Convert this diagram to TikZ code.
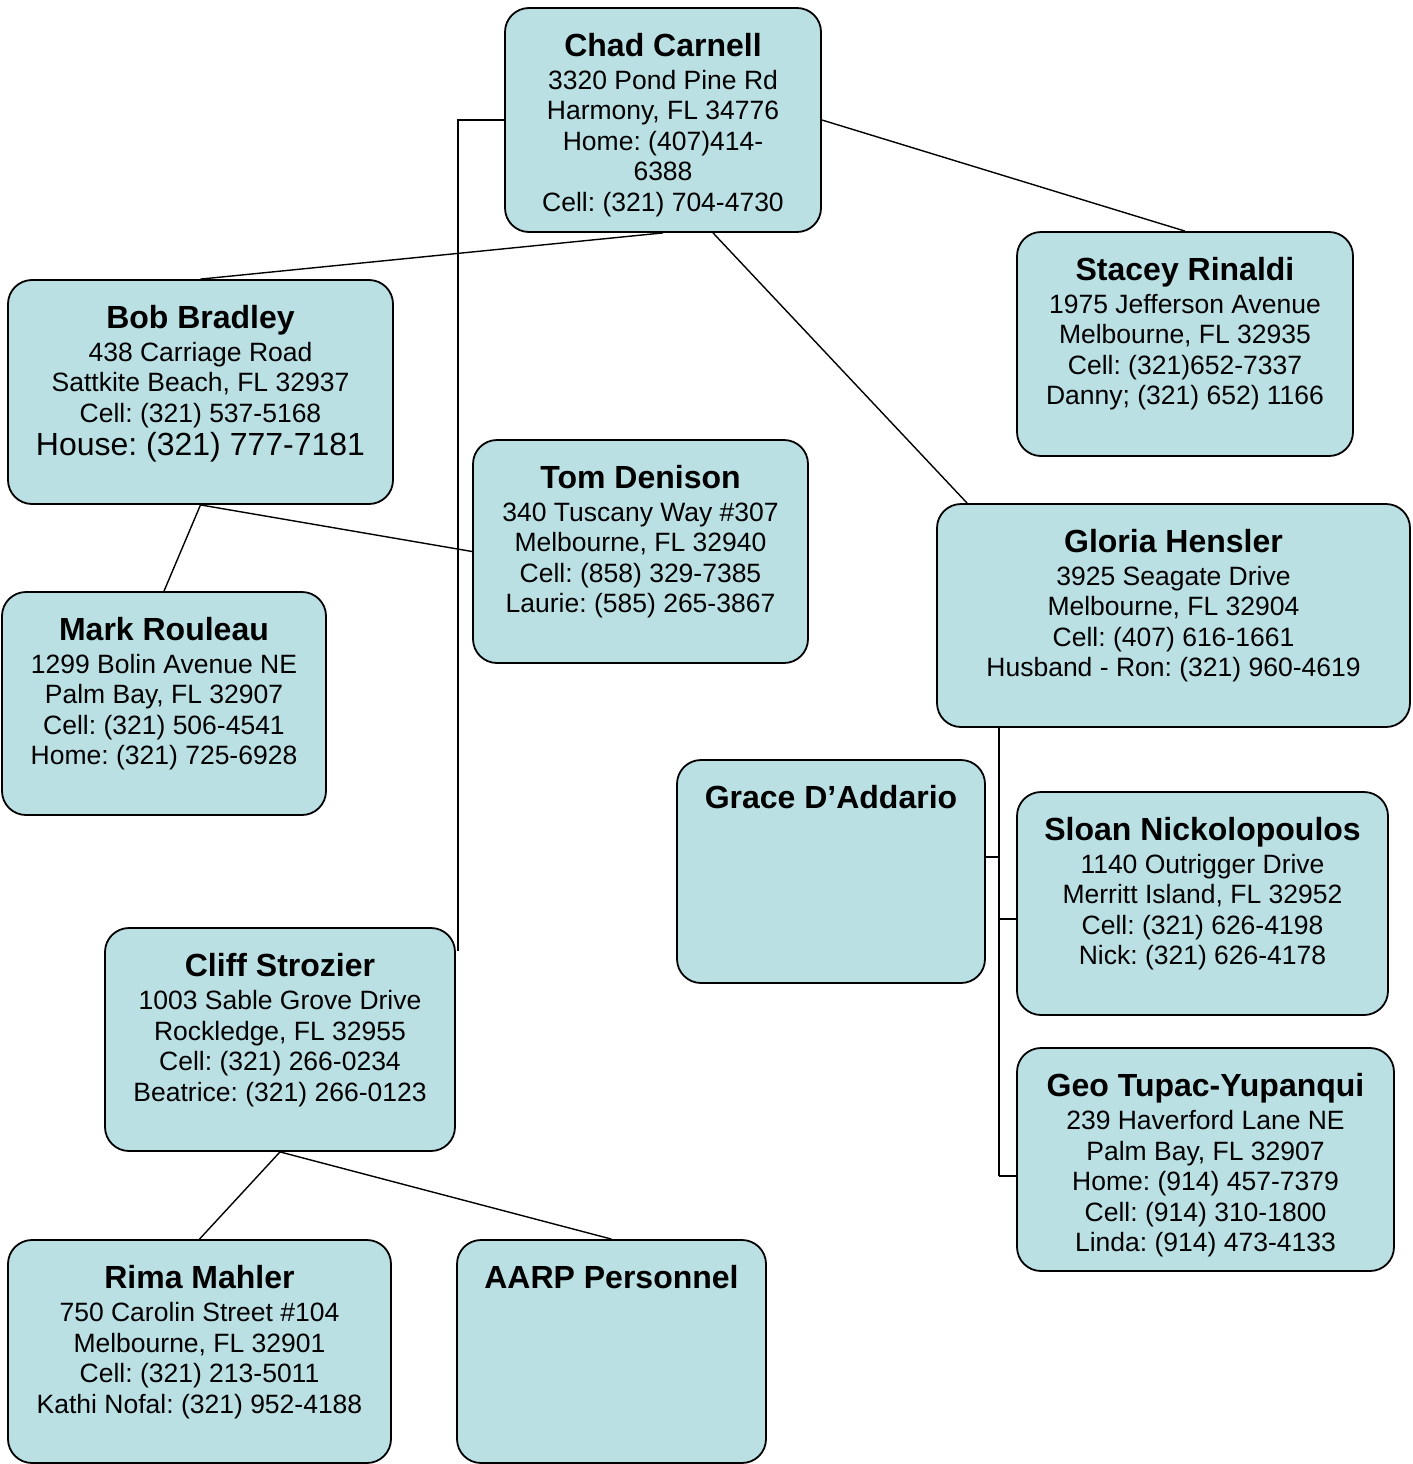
\documentclass[tikz,border=0pt]{standalone}
\usepackage{fontspec}
\setmainfont{Liberation Sans}
\frenchspacing
\definecolor{boxfill}{RGB}{186,224,228}
\tikzset{
  card/.style={draw=black, line width=1.8pt, fill=boxfill, rounded corners=24pt, inner sep=0pt},
  cardtext/.style={anchor=north, inner sep=0pt, align=center, font=\fontsize{26.5}{30.5}\selectfont\frenchspacing},
  link/.style={draw=black, line width=1.4pt},
}
\newcommand{\nm}[1]{{\fontsize{32}{33}\selectfont\bfseries #1}\\[2.5pt]}
\newcommand{\mkcard}[6]{% name, x1, y1, x2, y2, text
  \node[card, minimum width={#4-#2}, minimum height={#5-#3}] (#1) at ({(#2+#4)/2},{(#3+#5)/2}) {};
  \node[cardtext] (#1t) at ([yshift=-26pt]#1.north) {#6};
}
\begin{document}
\begin{tikzpicture}[x=1pt,y=-1pt]
\useasboundingbox (0,0) rectangle (1413,1464);
\mkcard{chad}{505}{8}{821}{232}{\nm{Chad Carnell}3320 Pond Pine Rd\\Harmony, FL 34776\\Home: (407)414-\\6388\\Cell: (321) 704-4730}
\mkcard{stacey}{1017}{232}{1353}{456}{\nm{Stacey Rinaldi}1975 Jefferson Avenue\\Melbourne, FL 32935\\Cell: (321)652-7337\\Danny; (321) 652) 1166}
\mkcard{bob}{8}{280}{393}{504}{\nm{Bob Bradley}438 Carriage Road\\Sattkite Beach, FL 32937\\Cell: (321) 537-5168\\[2.5pt]{\fontsize{32}{33}\selectfont House: (321) 777-7181}}
\mkcard{tom}{473}{440}{808}{663}{\nm{Tom Denison}340 Tuscany Way \#307\\Melbourne, FL 32940\\Cell: (858) 329-7385\\Laurie: (585) 265-3867}
\mkcard{gloria}{937}{504}{1410}{727}{\nm{Gloria Hensler}3925 Seagate Drive\\Melbourne, FL 32904\\Cell: (407) 616-1661\\Husband - Ron: (321) 960-4619}
\mkcard{mark}{2}{592}{326}{815}{\nm{Mark Rouleau}1299 Bolin Avenue NE\\Palm Bay, FL 32907\\Cell: (321) 506-4541\\Home: (321) 725-6928}
\mkcard{grace}{677}{760}{985}{983}{{\fontsize{32}{33}\selectfont\bfseries Grace D’Addario}}
\mkcard{sloan}{1017}{792}{1388}{1015}{\nm{Sloan Nickolopoulos}1140 Outrigger Drive\\Merritt Island, FL 32952\\Cell: (321) 626-4198\\Nick: (321) 626-4178}
\mkcard{geo}{1017}{1048}{1394}{1271}{\nm{Geo Tupac-Yupanqui}239 Haverford Lane NE\\Palm Bay, FL 32907\\Home: (914) 457-7379\\Cell: (914) 310-1800\\Linda: (914) 473-4133}
\mkcard{cliff}{105}{928}{455}{1151}{\nm{Cliff Strozier}1003 Sable Grove Drive\\Rockledge, FL 32955\\Cell: (321) 266-0234\\Beatrice: (321) 266-0123}
\mkcard{rima}{8}{1240}{391}{1463}{\nm{Rima Mahler}750 Carolin Street \#104\\Melbourne, FL 32901\\Cell: (321) 213-5011\\Kathi Nofal: (321) 952-4188}
\mkcard{aarp}{457}{1240}{766}{1463}{{\fontsize{32}{33}\selectfont\bfseries AARP Personnel}}
% connectors
\draw[link] (chad.south) -- (bob.north);
\draw[link] (chad.east) -- (stacey.north);
\draw[link] ([xshift=50pt]chad.south) -- ([xshift=31pt]gloria.north west);
\draw[link] (chad.west) -| ([xshift=2pt,yshift=-24pt]cliff.north east);
\draw[link] (bob.south) -- (mark.north);
\draw[link] (bob.south) -- (tom.west);
\coordinate (gtop) at ([xshift=63pt]gloria.south west);
\coordinate (gbot) at ([yshift=-448pt]gtop);
\draw[link] (gtop) -- (gbot);
\draw[link] ([yshift=-129pt]gtop) -- ([yshift=-129pt]gtop -| grace.east);
\draw[link] ([yshift=-191pt]gtop) -- ([yshift=-191pt]gtop -| sloan.west);
\draw[link] (gbot) -- (gbot -| geo.west);
\draw[link] (cliff.south) -- (rima.north);
\draw[link] (cliff.south) -- (aarp.north);
\end{tikzpicture}
\end{document}
